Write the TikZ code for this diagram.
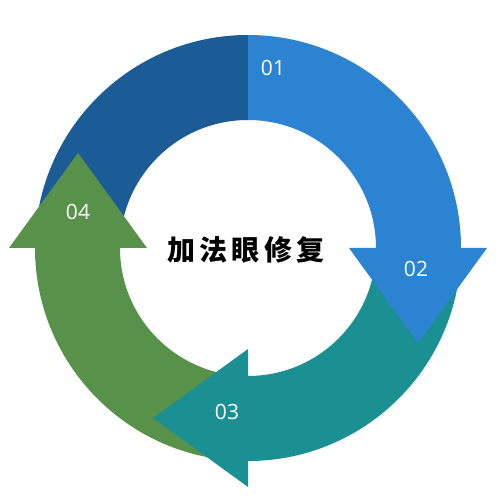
\documentclass[tikz,border=0pt]{standalone}
\usepackage{fontspec}
\newfontfamily\cjk[LetterSpace=15]{Noto Sans CJK SC}
\newfontfamily\nums{Open Sans}
\definecolor{segA}{HTML}{2B83D2}
\definecolor{segB}{HTML}{1A9093}
\definecolor{segC}{HTML}{58924A}
\definecolor{segD}{HTML}{1B5C97}
\tikzset{
every picture/.style={
x=1pt, y=1pt
}}
\tikzset{
numlabel/.style={text=white, inner sep=0pt, font=\nums\fontsize{21}{21}\selectfont},
titlelabel/.style={text=black, inner sep=0pt, font=\cjk\bfseries\fontsize{28}{28}\selectfont}
}

\begin{document}
\begin{tikzpicture}
\useasboundingbox[fill=white] (-248,-247) rectangle (252,248);

% ring quarters, each one followed by its arrow head at the clockwise end
% order matters: every head sits on top of the next quarter
\foreach \a/\c/\h in {180/segD/0, 270/segC/1, 0/segB/1, 90/segA/1}{
  \fill[\c] (\a:213) arc[start angle=\a, end angle=\a-90, radius=213]
    -- (\a-90:128) arc[start angle=\a-90, end angle=\a, radius=128] -- cycle;
  \ifnum\h=1
    \fill[\c, rotate=\a-90] (101,0) -- (239,0) -- (170,-95) -- cycle;
  \fi
}

% numbers
\node[numlabel] (n1) at (25,180) {01};
\node[numlabel] (n2) at (168,-21) {02};
\node[numlabel] (n3) at (-21,-164) {03};
\node[numlabel] (n4) at (-170,36) {04};

\node[titlelabel] (title) at (-2,-2) {加法眼修复};
\end{tikzpicture}
\end{document}
